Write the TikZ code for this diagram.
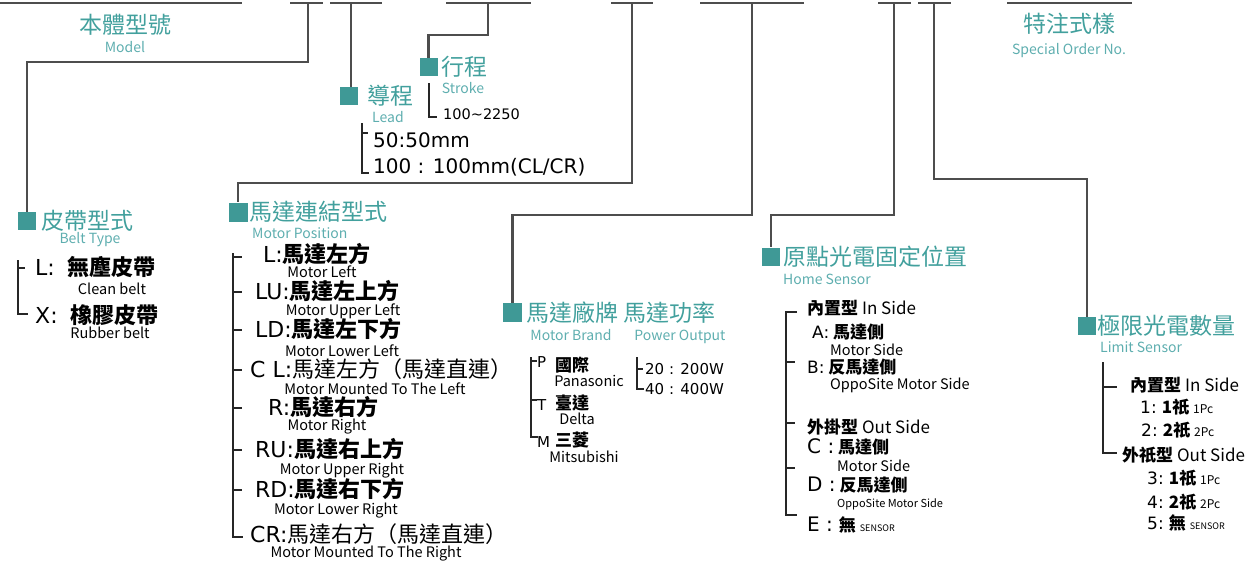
\documentclass[tikz,border=0pt]{standalone}
\usepackage{fontspec}
\setmainfont{Noto Sans CJK TC}
\newfontfamily\codefont{DejaVu Sans}
\usetikzlibrary{positioning}
\definecolor{tealtitle}{HTML}{42A09D}
\definecolor{tealbox}{HTML}{3F9996}
\definecolor{tealsub}{HTML}{5EAEAF}
\definecolor{linegray}{HTML}{4D4D4D}
\newcommand{\codetxt}[1]{{\codefont\mdseries #1}}

\begin{document}
\begin{tikzpicture}[x=1pt,y=-1pt,node distance=4pt]
  \tikzstyle{head}=[text=tealtitle,font=\fontsize{23}{23}\selectfont,inner sep=0pt]
  \tikzstyle{sub}=[text=tealsub,font=\fontsize{14}{14}\selectfont,inner sep=0pt,anchor=base]
  \tikzstyle{box}=[fill=tealbox,minimum size=18pt,inner sep=0pt]
  \tikzstyle{item}=[font=\fontsize{22}{22}\selectfont\bfseries,inner sep=0pt,anchor=west]
  \tikzstyle{small}=[font=\fontsize{17}{17}\selectfont\bfseries,inner sep=0pt,anchor=west]
  \tikzstyle{note}=[font=\fontsize{14.5}{14.5}\selectfont,inner sep=0pt,anchor=base]
  \tikzstyle{wire}=[draw=linegray,line width=2.2pt]
  \tikzstyle{brace}=[draw=black!85,line width=1.4pt]

  \useasboundingbox (0,0) rectangle (1247,562);

  % code slots along the top
  \foreach \a/\b in {0/242,290/323,330/382,446/531,611/653,700/804,878/911,918/951,1007/1132}
    \draw[wire] (\a,3) -- (\b,3);
  \coordinate (belt slot)   at (308,3);
  \coordinate (lead slot)   at (351,3);
  \coordinate (stroke slot) at (488,3);
  \coordinate (pos slot)    at (632,3);
  \coordinate (brand slot)  at (752,3);
  \coordinate (home slot)   at (894,3);
  \coordinate (limit slot)  at (934,3);

  % headings
  \node[head] (model) at (125,25) {本體型號};
  \node[sub]  (model en) at (125,52) {Model};
  \node[head] (special) at (1069,24) {特注式樣};
  \node[sub]  (special en) at (1069,54) {Special Order No.};

  \node[box] (beltbox) at (27,221) {};
  \node[head,right=5pt of beltbox] (belt) {皮帶型式};
  \node[sub] (belt en) at (90,243) {Belt Type};

  \node[box] (leadbox) at (349,96) {};
  \node[head,right=9pt of leadbox] (lead) {導程};
  \node[sub] (lead en) at (388,122) {Lead};

  \node[box] (strokebox) at (428.5,67) {};
  \node[head,right=4pt of strokebox] (stroke) {行程};
  \node[sub] (stroke en) at (463,93) {Stroke};

  \node[box,minimum size=19pt] (posbox) at (238,212) {};
  \node[head,right=2pt of posbox] (pos) {馬達連結型式};
  \node[sub,anchor=base west] (pos en) at (252,238) {Motor Position};

  \node[box,minimum size=19pt] (brandbox) at (512.5,312.5) {};
  \node[head,right=4pt of brandbox] (brand) {馬達廠牌 馬達功率};
  \node[sub] (brand en) at (571,340) {Motor Brand};
  \node[sub] (power en) at (680,340) {Power Output};

  \node[box] (homebox) at (771,256.5) {};
  \node[head,right=3pt of homebox] (home) {原點光電固定位置};
  \node[sub,anchor=base west] (home en) at (783,284) {Home Sensor};

  \node[box] (limitbox) at (1087,326) {};
  \node[head,right=1pt of limitbox] (limit) {極限光電數量};
  \node[sub,anchor=base west] (limit en) at (1100,352) {Limit Sensor};

  % leaders
  \draw[wire] (belt slot) -- ++(0,59) -| (beltbox.north);
  \draw[wire] (lead slot) -- (lead slot |- leadbox.north);
  \draw[wire] (stroke slot) -- ++(0,32) -| (strokebox.north);
  \draw[wire] (pos slot) -- ++(0,180) -| (posbox.north);
  \draw[wire] (brand slot) -- ++(0,212) -| (brandbox.north);
  \draw[wire] (home slot) -- ++(0,212) -| (homebox.north);
  \draw[wire] (limit slot) -- ++(0,176) -| (limitbox.north);

  % belt type
  \draw[brace] (18,260) -- (18,314) -- (28,314) (18,268) -- (25,268);
  \node[item] (belt L) at (35,267) {\codetxt{L:}\hspace{13pt}無塵皮帶};
  \node[note] (belt L en) at (112,294) {Clean belt};
  \node[item] (belt X) at (35,315) {\codetxt{X:}\hspace{13pt}橡膠皮帶};
  \node[note] (belt X en) at (110,338) {Rubber belt};

  % lead and stroke
  \draw[brace] (362,123) -- (362,173) -- (369,173) (362,133) -- (368,133);
  \node[item,font=\fontsize{20}{20}\selectfont] (lead 50) at (373,140) {\codetxt{50:50mm}};
  \node[item,font=\fontsize{20}{20}\selectfont] (lead 100) at (373,167) {\codetxt{100 : 100mm(CL/CR)}};
  \draw[brace] (429,83) -- (429,117) -- (437,117);
  \node[item,font=\fontsize{14.5}{14.5}\selectfont] (stroke range) at (443,114) {\codetxt{100\char`~2250}};

  % motor position
  \draw[brace] (233,253) -- (233,537) -- (243,537);
  \foreach \t in {257,292,330,370,408,450,490}
    \draw[brace] (233,\t) -- (242,\t);
  \node[item] (pos L) at (263,254) {\codetxt{L:}馬達左方};
  \node[note] (pos L en) at (322,277) {Motor Left};
  \node[item] (pos LU) at (255,291) {\codetxt{LU:}馬達左上方};
  \node[note] (pos LU en) at (343,315) {Motor Upper Left};
  \node[item] (pos LD) at (255,329) {\codetxt{LD:}馬達左下方};
  \node[note] (pos LD en) at (342,356) {Motor Lower Left};
  \node[item] (pos CL) at (250,369) {\codetxt{C L:}\mdseries 馬達左方（馬達直連）};
  \node[note] (pos CL en) at (375,394) {Motor Mounted To The Left};
  \node[item] (pos R) at (268,407) {\codetxt{R:}馬達右方};
  \node[note] (pos R en) at (327,430) {Motor Right};
  \node[item] (pos RU) at (255,449) {\codetxt{RU:}馬達右上方};
  \node[note] (pos RU en) at (342,474) {Motor Upper Right};
  \node[item] (pos RD) at (255,489) {\codetxt{RD:}馬達右下方};
  \node[note] (pos RD en) at (336,514) {Motor Lower Right};
  \node[item] (pos CR) at (250,534) {\codetxt{CR:}\mdseries 馬達右方（馬達直連）};
  \node[note] (pos CR en) at (366,557) {Motor Mounted To The Right};

  % motor brand and power
  \draw[brace] (531,357) -- (531,437) -- (538,437) (531,361) -- (537,361) (531,400) -- (537,400);
  \node[small,font=\fontsize{15}{15}\selectfont] (brand P) at (537,362) {\codetxt{P}};
  \node[small] (brand P cn) at (555,365) {國際};
  \node[note] (brand P en) at (589,386) {Panasonic};
  \node[small,font=\fontsize{15}{15}\selectfont] (brand T) at (537,405) {\codetxt{T}};
  \node[small] (brand T cn) at (555,403) {臺達};
  \node[note] (brand T en) at (577,424) {Delta};
  \node[small,font=\fontsize{15}{15}\selectfont] (brand M) at (537,442) {\codetxt{M}};
  \node[small] (brand M cn) at (555,440) {三菱};
  \node[note] (brand M en) at (584,462) {Mitsubishi};
  \draw[brace] (637,357) -- (637,389) -- (644,389) (637,369) -- (643,369);
  \node[small,font=\fontsize{15}{15}\selectfont] (power 20) at (645,369) {\codetxt{20 : 200W}};
  \node[small,font=\fontsize{15}{15}\selectfont] (power 40) at (645,389) {\codetxt{40 : 400W}};

  % home sensor
  \draw[brace] (797,312) -- (786,312) -- (786,515) -- (797,515);
  \foreach \t in {362,423,468}
    \draw[brace] (786,\t) -- (795,\t);
  \node[small] (home in) at (807,308) {內置型 \mdseries In Side};
  \node[small] (home A) at (812,332) {\codetxt{A:} 馬達側};
  \node[note,anchor=base west] (home A en) at (830,355) {Motor Side};
  \node[small] (home B) at (807,367) {\codetxt{B:} 反馬達側};
  \node[note,anchor=base west] (home B en) at (830,389) {OppoSite Motor Side};
  \node[small] (home out) at (807,427) {外掛型 \mdseries Out Side};
  \node[small] (home C) at (807,447) {\codetxt{\fontsize{20}{20}\selectfont C :} 馬達側};
  \node[note,anchor=base west] (home C en) at (837,471) {Motor Side};
  \node[small] (home D) at (807,485) {\codetxt{\fontsize{20}{20}\selectfont D :} 反馬達側};
  \node[note,anchor=base west,font=\fontsize{11}{11}\selectfont] (home D en) at (837,507) {OppoSite Motor Side};
  \node[small] (home E) at (807,525) {\codetxt{\fontsize{20}{20}\selectfont E :}\hspace{6pt}無 \mdseries\fontsize{9}{9}\selectfont SENSOR};

  % limit sensor
  \draw[brace] (1103,362) -- (1103,453) -- (1117,453) (1103,387) -- (1117,387);
  \node[small] (limit in) at (1130,385) {內置型 \mdseries In Side};
  \node[small] (limit 1) at (1140,407) {\codetxt{1:} 1祇 \mdseries\fontsize{12}{12}\selectfont 1Pc};
  \node[small] (limit 2) at (1141,430) {\codetxt{2:} 2祇 \mdseries\fontsize{12}{12}\selectfont 2Pc};
  \node[small] (limit out) at (1122,455) {外祇型 \mdseries Out Side};
  \node[small] (limit 3) at (1147,478) {\codetxt{3:} 1祇 \mdseries\fontsize{12}{12}\selectfont 1Pc};
  \node[small] (limit 4) at (1147,502) {\codetxt{4:} 2祇 \mdseries\fontsize{12}{12}\selectfont 2Pc};
  \node[small] (limit 5) at (1147,523) {\codetxt{5:} 無 \mdseries\fontsize{9}{9}\selectfont SENSOR};
\end{tikzpicture}
\end{document}
